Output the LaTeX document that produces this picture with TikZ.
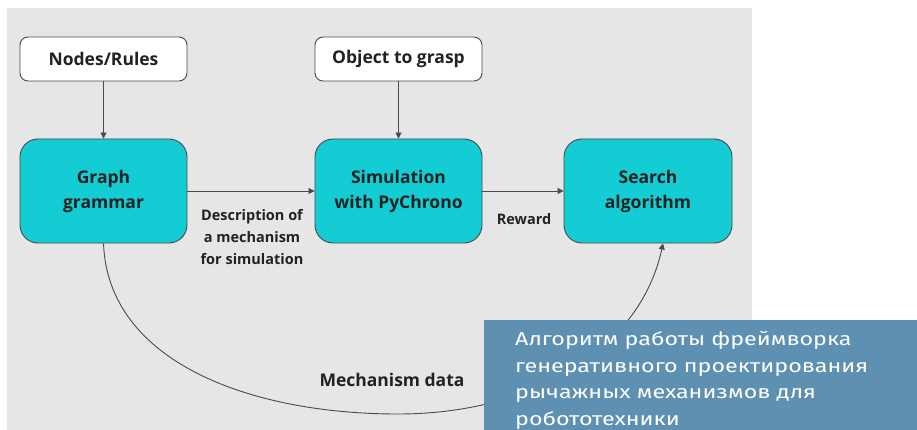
\documentclass[tikz,border=0pt]{standalone}
\usepackage{fontspec}
\setmainfont{Open Sans}
\newfontfamily\ovfont[FakeStretch=1.26]{Fira Sans}
\usetikzlibrary{arrows.meta}
\definecolor{bgray}{HTML}{E6E6E6}
\definecolor{cyanbox}{HTML}{14CCD3}
\definecolor{edgegray}{HTML}{4A4A4A}
\definecolor{txtdark}{HTML}{222222}
\definecolor{ovblue}{HTML}{5E90B2}
\tikzset{
  smallbox/.style={draw=edgegray, line width=0.9pt, fill=white, rounded corners=8pt,
    minimum width=167pt, minimum height=44pt, inner sep=0pt, align=center,
    font=\fontsize{17.5}{25}\selectfont\bfseries, text=txtdark},
  bigbox/.style={draw=edgegray, line width=0.9pt, fill=cyanbox, rounded corners=18pt,
    minimum width=167pt, minimum height=104pt, inner sep=0pt, align=center,
    font=\fontsize{17.5}{25}\selectfont\bfseries, text=txtdark},
  conn/.style={draw=edgegray, line width=0.9pt, -{Triangle[length=6pt,width=6pt]}},
  lbl/.style={font=\fontsize{14.5}{22}\selectfont\bfseries, text=txtdark, align=center, inner sep=0pt},
  ovtext/.style={font=\ovfont\fontsize{18.5}{26.5}\selectfont, text=white, align=left, inner sep=0pt, anchor=north west}
}
\begin{document}
\begin{tikzpicture}[x=1pt,y=-1pt]
\useasboundingbox (0,0) rectangle (917,430);
\fill[white] (0,0) rectangle (917,430);
\fill[bgray] (7,8) rectangle (752,430);

\node[smallbox] (nr) at (103.5,59) {Nodes/Rules};
\node[smallbox] (og) at (398.5,59) {Object to grasp};
\node[bigbox] (gg) at (103.5,191) {Graph\\grammar};
\node[bigbox] (sim) at (398.5,191) {Simulation\\with PyChrono};
\node[bigbox, minimum width=168pt] (sa) at (648,191) {Search\\algorithm};

\draw[conn] (nr) -- (gg);
\draw[conn] (og) -- (sim);
\draw[conn] (gg) -- (sim);
\draw[conn] (sim) -- (sa);

\node[lbl] (ldesc) at (252,237) {Description of\\a mechanism\\for simulation};
\node[lbl] (lrew) at (524,219) {Reward};

\coordinate (bot) at (398,414);
\coordinate (saend) at ([xshift=15pt]sa.south);
\draw[conn] (gg.south) .. controls (108,362) and (250,414) .. (bot)
  .. controls (532,414) and (640,350) .. (saend);

\node[font=\fontsize{17.5}{20}\selectfont\bfseries, text=txtdark, inner sep=0pt] (lmd) at (392,380) {Mechanism data};

\fill[ovblue] (484,320) rectangle (917,430);
\node[ovtext] (ov) at (515,331) {Алгоритм работы фреймворка\\генеративного проектирования\\рычажных механизмов для\\робототехники};
\end{tikzpicture}
\end{document}
